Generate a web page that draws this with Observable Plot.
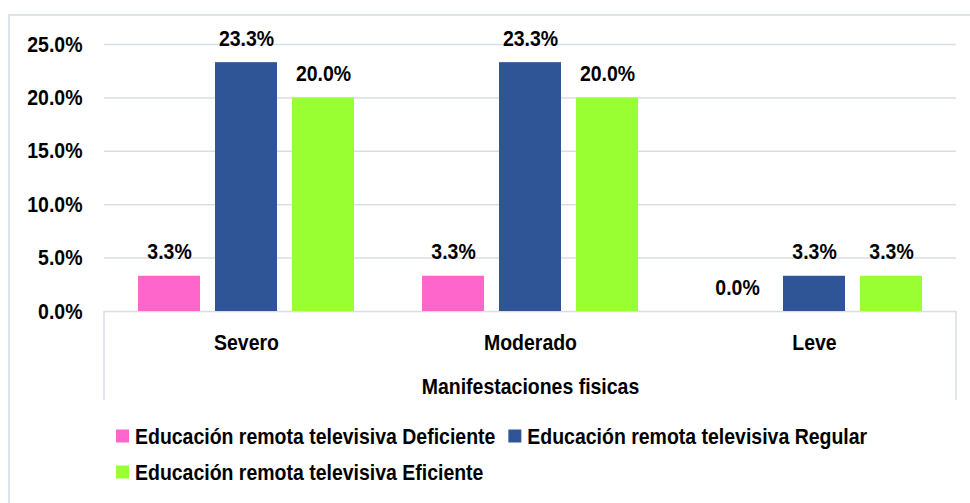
<!DOCTYPE html>
<html>
<head>
<meta charset="utf-8">
<script src="https://cdn.jsdelivr.net/npm/d3@7"></script>
<script src="https://cdn.jsdelivr.net/npm/@observablehq/plot@0.6"></script>
<style>
  html, body { margin: 0; padding: 0; background: #fff; width: 970px; height: 503px; overflow: hidden; }
  #wrap { position: relative; width: 970px; height: 503px; }
  #border { position: absolute; left: 8px; top: 14px; width: 1000px; height: 600px; border-left: 2px solid #DFE3EA; border-top: 2px solid #DFE3EA; }
  #chart { position: absolute; left: 0; top: 0; }
  #legend { position: absolute; left: 0; top: 410px; }
</style>
</head>
<body>
<div id="wrap">
  <div id="border"></div>
  <div id="chart"></div>
  <svg id="legend" width="970" height="93"></svg>
</div>
<script>
const categories = ["Severo", "Moderado", "Leve"];
const series = [
  "Educación remota televisiva Deficiente",
  "Educación remota televisiva Regular",
  "Educación remota televisiva Eficiente"
];
const colors = ["#FF66CC", "#2F5597", "#99FF33"];
const deficiente = [3.3, 3.3, 0.0];
const regular = [23.3, 23.3, 3.3];
const eficiente = [20.0, 20.0, 3.3];
const yTicks = [0, 5, 10, 15, 20, 25];
const xTitle = "Manifestaciones fisicas";

const seriesValues = [deficiente, regular, eficiente];
const data = [];
categories.forEach((c, i) => {
  series.forEach((s, j) => data.push({cat: c, series: s, value: seriesValues[j][i]}));
});
const fmt = v => v.toFixed(1) + "%";
const FONT = "'Liberation Sans', Arial, sans-serif";
const FS = 22;
const SQUEEZE = 0.885;

const chart = Plot.plot({
  width: 970,
  height: 410,
  marginLeft: 104,
  marginRight: 14,
  marginTop: 44,
  marginBottom: 99,
  style: {fontFamily: FONT, fontWeight: "bold", fontSize: FS + "px", color: "#000", background: "transparent", overflow: "visible"},
  fx: {domain: categories, padding: 0, tickSize: 0, tickPadding: 23, label: xTitle, labelAnchor: "center", labelOffset: 82},
  x: {domain: series, paddingInner: 0.19, paddingOuter: 0.417, axis: null},
  y: {domain: [0, 25], ticks: yTicks, tickFormat: d => d.toFixed(1) + "%", tickSize: 0, tickPadding: 22, label: null},
  color: {domain: series, range: colors},
  marks: [
    Plot.ruleY(yTicks, {stroke: "#D9DEE6", strokeWidth: 1.5}),
    Plot.barY(data, {fx: "cat", x: "series", y: "value", fill: "series"}),
    Plot.text(data, {fx: "cat", x: "series", y: "value", text: d => fmt(d.value), dy: -24, fill: "#000", fontSize: FS, fontWeight: "bold"})
  ]
});
document.getElementById("chart").appendChild(chart);

// category box side lines, from fx scale
const fx = chart.scale("fx");
const yS = chart.scale("y");
const svg = d3.select(chart);
const x0 = fx.apply(categories[0]);
const x1 = fx.apply(categories[categories.length - 1]) + fx.bandwidth;
const yBase = yS.apply(0);
[x0, x1].forEach(xx => {
  svg.append("line").attr("x1", xx).attr("x2", xx).attr("y1", yBase).attr("y2", yBase + 89)
    .attr("stroke", "#D9DEE6").attr("stroke-width", 1.5);
});

// legend (SVG below the chart)
const lg = d3.select("#legend")
  .style("font-family", FONT).style("font-weight", "bold").style("font-size", FS + "px");
let lx = 116, row = 0;
const rowY = [26, 62], maxX = 920;
series.forEach((s, i) => {
  const g = lg.append("g");
  const t = g.append("text").attr("y", 0).attr("dy", "0.35em").attr("fill", "#000").text(s);
  const w = t.node().getComputedTextLength() * SQUEEZE;
  if (lx + 19 + w > maxX && lx > 116) { row++; lx = 116; }
  g.attr("transform", `translate(${lx},${rowY[row]})`);
  g.insert("rect", "text").attr("x", 0).attr("y", -6.5).attr("width", 13).attr("height", 13).attr("fill", colors[i]);
  t.attr("x", 19);
  lx += 19 + w + 13;
});

// condense all texts horizontally (the source font is narrow)
d3.selectAll("svg text").each(function() {
  const len = this.getComputedTextLength();
  if (len > 0) {
    this.setAttribute("textLength", (len * SQUEEZE).toFixed(2));
    this.setAttribute("lengthAdjust", "spacingAndGlyphs");
  }
});
</script>
</body>
</html>
